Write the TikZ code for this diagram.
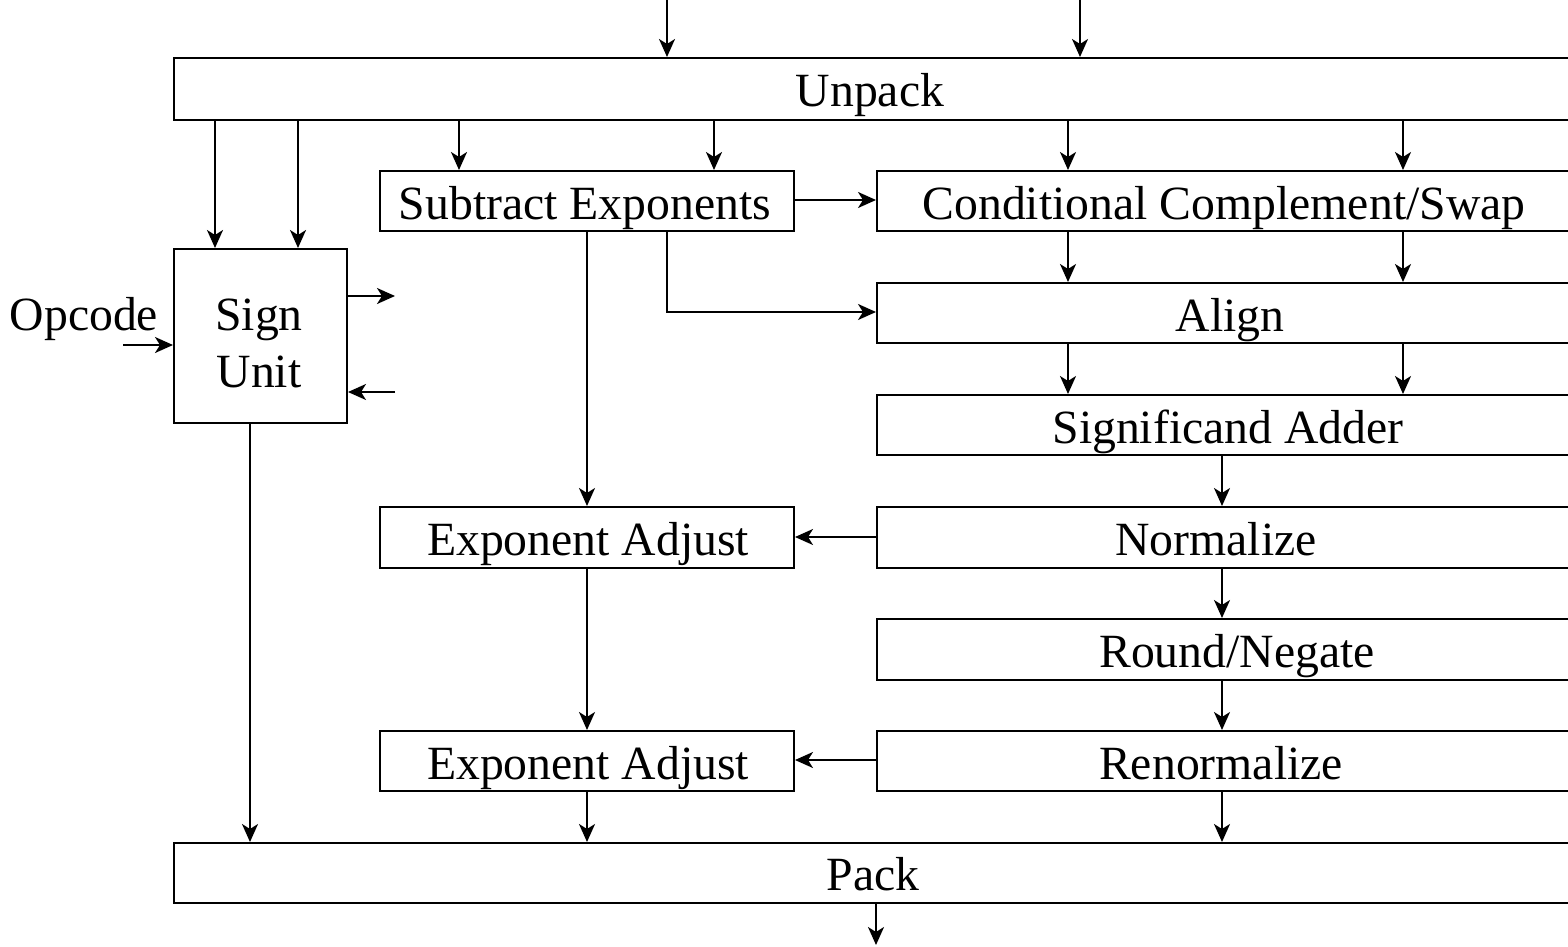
\documentclass[tikz,border=0pt]{standalone}
\usepackage{fontspec}
\setmainfont{Liberation Serif}
\usetikzlibrary{arrows.meta}
\begin{document}
\begin{tikzpicture}[x=1pt,y=-1pt,
  box/.style={draw,line width=2pt,anchor=north west,inner sep=0pt},
  lbl/.style={anchor=base,inner sep=0pt,align=center},
  arr/.style={line width=2pt,-{Stealth[length=18pt,width=16pt,inset=5pt]}},
  font=\fontsize{47.7}{57}\selectfont]
\useasboundingbox (0,0) rectangle (1568,947);
% boxes
\node[box,minimum width=1400pt,minimum height=62pt] (unpack) at (173,57) {};
\node[box,minimum width=414pt,minimum height=60pt] (sub) at (379,170) {};
\node[box,minimum width=697pt,minimum height=60pt] (cond) at (876,170) {};
\node[box,minimum width=697pt,minimum height=60pt] (align) at (876,282) {};
\node[box,minimum width=697pt,minimum height=60pt] (sig) at (876,394) {};
\node[box,minimum width=697pt,minimum height=61pt] (norm) at (876,506) {};
\node[box,minimum width=697pt,minimum height=61pt] (round) at (876,618) {};
\node[box,minimum width=697pt,minimum height=60pt] (renorm) at (876,730) {};
\node[box,minimum width=414pt,minimum height=61pt] (ea1) at (379,506) {};
\node[box,minimum width=414pt,minimum height=60pt] (ea2) at (379,730) {};
\node[box,minimum width=1400pt,minimum height=60pt] (pack) at (173,842) {};
\node[box,minimum width=173pt,minimum height=174pt] (sign) at (173,248) {};
% texts
\node[lbl] (unpackt) at (870,107) {Unpack};
\node[lbl] (subt) at (585,219) {Subtract Exponents};
\node[lbl] (condt) at (1224,219) {Conditional Complement/Swap};
\node[lbl] (alignt) at (1230,331) {Align};
\node[lbl] (sigt) at (1228,443) {Significand Adder};
\node[lbl] (normt) at (1216,555) {Normalize};
\node[lbl] (roundt) at (1237,667) {Round/Negate};
\node[lbl] (renormt) at (1221,779) {Renormalize};
\node[lbl] (ea1t) at (588,555) {Exponent Adjust};
\node[lbl] (ea2t) at (588,779) {Exponent Adjust};
\node[lbl] (packt) at (873,890) {Pack};
\node[lbl] (signt) at (259,330) {Sign};
\node[lbl] (unitt) at (259,387) {Unit};
\node[lbl] (opcode) at (84,330) {Opcode};
% free ends
\coordinate (in1) at (667,0);
\coordinate (in2) at (1080,0);
\coordinate (out) at (876,945);
\coordinate (op) at (123,345);
\coordinate (so) at (395,296);
\coordinate (si) at (395,392);
% arrows
\draw[arr] (in1) -- (in1 |- unpack.north);
\draw[arr] (in2) -- (in2 |- unpack.north);
\draw[arr] (215,0 |- unpack.south) -- (215,0 |- sign.north);
\draw[arr] (298,0 |- unpack.south) -- (298,0 |- sign.north);
\draw[arr] (459,0 |- unpack.south) -- (459,0 |- sub.north);
\draw[arr] (714,0 |- unpack.south) -- (714,0 |- sub.north);
\draw[arr] (1068,0 |- unpack.south) -- (1068,0 |- cond.north);
\draw[arr] (1403,0 |- unpack.south) -- (1403,0 |- cond.north);
\draw[arr] (sub.east |- 0,200) -- (cond.west |- 0,200);
\draw[arr] (1068,0 |- cond.south) -- (1068,0 |- align.north);
\draw[arr] (1403,0 |- cond.south) -- (1403,0 |- align.north);
\draw[arr] (667,0 |- sub.south) -- (667,312) -- (align.west |- 0,312);
\draw[arr] (1068,0 |- align.south) -- (1068,0 |- sig.north);
\draw[arr] (1403,0 |- align.south) -- (1403,0 |- sig.north);
\draw[arr] (1222,0 |- sig.south) -- (1222,0 |- norm.north);
\draw[arr] (1222,0 |- norm.south) -- (1222,0 |- round.north);
\draw[arr] (1222,0 |- round.south) -- (1222,0 |- renorm.north);
\draw[arr] (1222,0 |- renorm.south) -- (1222,0 |- pack.north);
\draw[arr] (587,0 |- sub.south) -- (587,0 |- ea1.north);
\draw[arr] (587,0 |- ea1.south) -- (587,0 |- ea2.north);
\draw[arr] (587,0 |- ea2.south) -- (587,0 |- pack.north);
\draw[arr] (norm.west |- 0,537) -- (ea1.east |- 0,537);
\draw[arr] (renorm.west |- 0,760) -- (ea2.east |- 0,760);
\draw[arr] (250,0 |- sign.south) -- (250,0 |- pack.north);
\draw[arr] (876,0 |- pack.south) -- (out);
\draw[arr] (op) -- (sign.west |- op);
\draw[arr] (sign.east |- so) -- (so);
\draw[arr] (si) -- (sign.east |- si);
\end{tikzpicture}
\end{document}
